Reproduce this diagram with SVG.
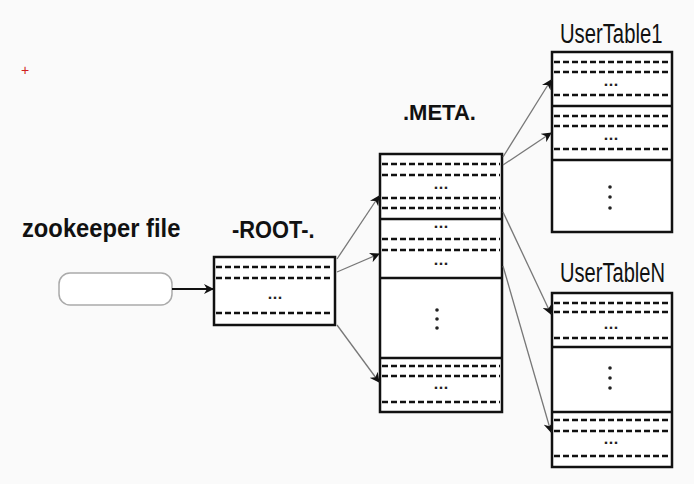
<svg xmlns="http://www.w3.org/2000/svg" width="694" height="484" viewBox="0 0 694 484">
<defs>
<marker id="ah" viewBox="0 0 10 10" refX="9" refY="5" markerWidth="10" markerHeight="10" markerUnits="userSpaceOnUse" orient="auto">
<path d="M0,0 L10,5 L0,10 L3,5 z" fill="#111"/>
</marker>
</defs>
<style>
.box{fill:#fff;stroke:#111;stroke-width:2.5}
.dv{stroke:#111;stroke-width:2.5}
.ds{stroke:#111;stroke-width:2.6;stroke-dasharray:6 3}
.lbl{font-family:"Liberation Sans",Arial,sans-serif;fill:#111}
.b{font-weight:bold}
.dots{font-family:"DejaVu Sans",sans-serif;font-size:13px;font-weight:bold;fill:#222;text-anchor:middle}
.vd{fill:#222}
.con{stroke:#777;stroke-width:1.3;fill:none}
</style>
<rect width="694" height="484" fill="#fafafa"/>
<text x="25" y="75" font-family="Liberation Sans,sans-serif" font-size="14" fill="#d02020" text-anchor="middle">+</text>

<g id="zookeeper">
<text class="lbl b" transform="translate(22,237) scale(0.95,1)" font-size="25">zookeeper file</text>
<rect x="59" y="273" width="113" height="32" rx="11" fill="#fff" stroke="#aaa" stroke-width="1.5"/>
</g>

<g id="root">
<text class="lbl b" transform="translate(232,238) scale(0.95,1)" font-size="23">-ROOT-.</text>
<rect class="box" x="214" y="257" width="121" height="68"/>
<line class="ds" x1="216" y1="267" x2="333" y2="267"/>
<line class="ds" x1="216" y1="278" x2="333" y2="278"/>
<text class="dots" x="275" y="299">...</text>
<line class="ds" x1="216" y1="313" x2="333" y2="313"/>
</g>

<g id="meta">
<text class="lbl b" x="403" y="120" font-size="22">.META.</text>
<rect class="box" x="380" y="154" width="122" height="258"/>
<line class="dv" x1="380" y1="219" x2="502" y2="219"/>
<line class="dv" x1="380" y1="278" x2="502" y2="278"/>
<line class="dv" x1="380" y1="358" x2="502" y2="358"/>
<line class="ds" x1="382" y1="164" x2="500" y2="164"/>
<line class="ds" x1="382" y1="175" x2="500" y2="175"/>
<text class="dots" x="441" y="189">...</text>
<line class="ds" x1="382" y1="198" x2="500" y2="198"/>
<line class="ds" x1="382" y1="208" x2="500" y2="208"/>
<text class="dots" x="441" y="228">...</text>
<line class="ds" x1="382" y1="239" x2="500" y2="239"/>
<line class="ds" x1="382" y1="250" x2="500" y2="250"/>
<text class="dots" x="441" y="265">...</text>
<circle class="vd" cx="437" cy="310" r="1.8"/>
<circle class="vd" cx="437" cy="319" r="1.8"/>
<circle class="vd" cx="437" cy="328" r="1.8"/>
<line class="ds" x1="382" y1="366" x2="500" y2="366"/>
<line class="ds" x1="382" y1="376" x2="500" y2="376"/>
<text class="dots" x="441" y="389">...</text>
<line class="ds" x1="382" y1="402" x2="500" y2="402"/>
</g>

<g id="usertable1">
<text class="lbl" transform="translate(560,43) scale(0.75,1)" font-size="27">UserTable1</text>
<rect class="box" x="552" y="52" width="120" height="180"/>
<line class="dv" x1="552" y1="106" x2="672" y2="106"/>
<line class="dv" x1="552" y1="160" x2="672" y2="160"/>
<line class="ds" x1="554" y1="62" x2="670" y2="62"/>
<line class="ds" x1="554" y1="72" x2="670" y2="72"/>
<text class="dots" x="611" y="86">...</text>
<line class="ds" x1="554" y1="95" x2="670" y2="95"/>
<line class="ds" x1="554" y1="116" x2="670" y2="116"/>
<line class="ds" x1="554" y1="126" x2="670" y2="126"/>
<text class="dots" x="611" y="140">...</text>
<line class="ds" x1="554" y1="149" x2="670" y2="149"/>
<circle class="vd" cx="610" cy="187" r="1.8"/>
<circle class="vd" cx="610" cy="197" r="1.8"/>
<circle class="vd" cx="610" cy="208" r="1.8"/>
</g>

<g id="usertableN">
<text class="lbl" transform="translate(560,282) scale(0.745,1)" font-size="27">UserTableN</text>
<rect class="box" x="552" y="293" width="120" height="174"/>
<line class="dv" x1="552" y1="347" x2="672" y2="347"/>
<line class="dv" x1="552" y1="412" x2="672" y2="412"/>
<line class="ds" x1="554" y1="303" x2="670" y2="303"/>
<line class="ds" x1="554" y1="312" x2="670" y2="312"/>
<text class="dots" x="611" y="329">...</text>
<line class="ds" x1="554" y1="338" x2="670" y2="338"/>
<circle class="vd" cx="610" cy="368" r="1.8"/>
<circle class="vd" cx="610" cy="378" r="1.8"/>
<circle class="vd" cx="610" cy="388" r="1.8"/>
<line class="ds" x1="554" y1="420" x2="670" y2="420"/>
<line class="ds" x1="554" y1="431" x2="670" y2="431"/>
<text class="dots" x="611" y="444">...</text>
<line class="ds" x1="554" y1="456" x2="670" y2="456"/>
</g>

<g id="connectors">
<line x1="172" y1="289" x2="213" y2="289" stroke="#111" stroke-width="2.2" marker-end="url(#ah)"/>
<line class="con" x1="337" y1="259" x2="379" y2="196" marker-end="url(#ah)"/>
<line class="con" x1="337" y1="272" x2="379" y2="254" marker-end="url(#ah)"/>
<line class="con" x1="337" y1="325" x2="379" y2="382" marker-end="url(#ah)"/>
<line class="con" x1="503" y1="157" x2="551" y2="80" marker-end="url(#ah)"/>
<line class="con" x1="503" y1="165" x2="551" y2="133" marker-end="url(#ah)"/>
<line class="con" x1="503" y1="212" x2="551" y2="314" marker-end="url(#ah)"/>
<line class="con" x1="503" y1="266" x2="551" y2="432" marker-end="url(#ah)"/>
</g>
</svg>
